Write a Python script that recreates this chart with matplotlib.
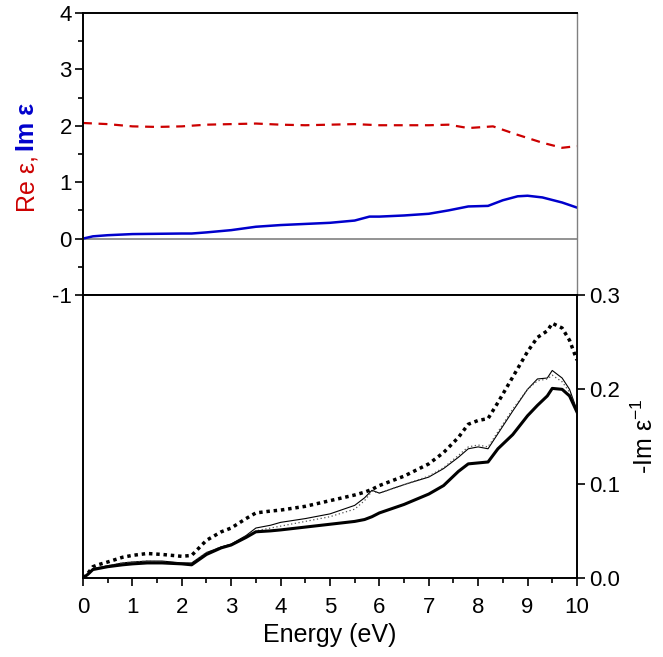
import matplotlib
matplotlib.use("Agg")
import matplotlib.pyplot as plt
from matplotlib.ticker import MultipleLocator

plt.rcParams['font.family'] = ['Liberation Sans', 'DejaVu Sans']
plt.rcParams['mathtext.fontset'] = 'custom'
plt.rcParams['mathtext.rm'] = 'Liberation Sans'
plt.rcParams['mathtext.it'] = 'Liberation Sans'
plt.rcParams['axes.unicode_minus'] = False

# top panel: dielectric function
e_re = [0, 0.5, 1.0, 1.5, 2.0, 2.5, 3.0, 3.5, 4.0, 4.5, 5.0, 5.5, 6.0, 6.5,
        7.0, 7.4, 7.8, 8.3, 8.8, 9.3, 9.7, 10.0]
re_eps = [2.05, 2.03, 1.99, 1.98, 1.99, 2.02, 2.03, 2.04, 2.02, 2.01, 2.02,
          2.03, 2.01, 2.01, 2.01, 2.02, 1.96, 1.99, 1.84, 1.70, 1.61, 1.64]

e_im = [0, 0.2, 0.5, 1.0, 1.5, 2.0, 2.2, 2.5, 3.0, 3.5, 4.0, 4.5, 5.0, 5.5,
        5.8, 6.0, 6.5, 7.0, 7.4, 7.8, 8.2, 8.5, 8.8, 9.0, 9.3, 9.7, 10.0]
im_eps = [0.0, 0.04, 0.06, 0.08, 0.085, 0.09, 0.09, 0.11, 0.15, 0.21, 0.24,
          0.26, 0.28, 0.32, 0.39, 0.39, 0.41, 0.44, 0.50, 0.57, 0.58, 0.68,
          0.75, 0.76, 0.73, 0.64, 0.55]

# bottom panel: loss function
energy = [0, 0.1, 0.2, 0.3, 0.5, 0.8, 1.0, 1.3, 1.6, 2.0, 2.2, 2.5, 2.8, 3.0,
          3.3, 3.5, 3.8, 4.0, 4.5, 5.0, 5.5, 5.7, 5.85, 6.0, 6.5, 7.0, 7.3,
          7.6, 7.8, 8.0, 8.2, 8.4, 8.7, 9.0, 9.2, 9.4, 9.5, 9.7, 9.85, 10.0]
loss_a = [0, 0.005, 0.012, 0.014, 0.017, 0.022, 0.024, 0.026, 0.025, 0.023,
          0.024, 0.040, 0.049, 0.053, 0.063, 0.069, 0.071, 0.072, 0.076,
          0.082, 0.088, 0.091, 0.094, 0.098, 0.108, 0.121, 0.133, 0.149,
          0.163, 0.167, 0.169, 0.186, 0.213, 0.240, 0.255, 0.262, 0.270,
          0.265, 0.252, 0.231]
loss_b = [0, 0.004, 0.010, 0.011, 0.013, 0.016, 0.017, 0.018, 0.018, 0.016,
          0.016, 0.027, 0.033, 0.036, 0.045, 0.053, 0.056, 0.059, 0.063,
          0.068, 0.077, 0.085, 0.093, 0.090, 0.099, 0.107, 0.116, 0.128,
          0.137, 0.139, 0.137, 0.153, 0.177, 0.200, 0.211, 0.212, 0.220,
          0.212, 0.200, 0.178]
loss_c = [0, 0.004, 0.010, 0.011, 0.013, 0.016, 0.017, 0.018, 0.017, 0.016,
          0.016, 0.027, 0.033, 0.036, 0.044, 0.050, 0.053, 0.055, 0.060,
          0.065, 0.073, 0.082, 0.092, 0.090, 0.099, 0.108, 0.117, 0.130,
          0.139, 0.141, 0.139, 0.155, 0.179, 0.200, 0.209, 0.211, 0.215,
          0.208, 0.197, 0.177]
loss_d = [0, 0.004, 0.009, 0.010, 0.012, 0.014, 0.015, 0.016, 0.016, 0.015,
          0.014, 0.025, 0.032, 0.035, 0.043, 0.049, 0.050, 0.051, 0.054,
          0.057, 0.060, 0.062, 0.065, 0.069, 0.078, 0.089, 0.098, 0.113,
          0.121, 0.122, 0.123, 0.137, 0.152, 0.172, 0.183, 0.193, 0.201,
          0.200, 0.193, 0.176]

fig = plt.figure(figsize=(6.63, 6.57), dpi=100)
ax1 = fig.add_axes([0.1252, 0.551, 0.745, 0.4292])
ax2 = fig.add_axes([0.1252, 0.1202, 0.745, 0.4308])

# top panel
ax1.axhline(0, color='gray', lw=1.2, zorder=1)
ax1.plot(e_re, re_eps, color='#cc0000', lw=1.6, ls=(0, (4, 3)))
ax1.plot(e_im, im_eps, color='#0000cc', lw=1.8)
ax1.set_xlim(0, 10)
ax1.set_ylim(-1, 4)
ax1.yaxis.set_major_locator(MultipleLocator(1))
ax1.yaxis.set_minor_locator(MultipleLocator(0.5))
ax1.tick_params(axis='y', which='major', direction='out', length=6,
                width=1.2, labelsize=16, pad=2)
ax1.tick_params(axis='y', which='minor', direction='out', length=3.5, width=1.2)
ax1.tick_params(axis='x', which='both', bottom=False, labelbottom=False)
for s in ['left', 'top', 'bottom']:
    ax1.spines[s].set_linewidth(1.4)
ax1.spines['right'].set_color('gray')
ax1.spines['right'].set_linewidth(1.0)

fig.text(0.041, 1 - 212 / 657, 'Re ε,', color='#cc0000', rotation=90,
         ha='center', va='bottom', fontsize=18)
fig.text(0.041, 1 - 151 / 657, 'Im ε', color='#0000cc', rotation=90,
         ha='center', va='bottom', fontsize=18, fontweight='bold')

# bottom panel
ax2.plot(energy, loss_a, color='black', lw=2.5, ls=(0, (1, 1.1)))
ax2.plot(energy, loss_b, color='black', lw=0.8)
ax2.plot(energy, loss_c, color='#555555', lw=0.9, ls=(0, (1, 2)))
ax2.plot(energy, loss_d, color='black', lw=2.2)
ax2.set_xlim(0, 10)
ax2.set_ylim(0, 0.3)
ax2.xaxis.set_major_locator(MultipleLocator(1))
ax2.xaxis.set_minor_locator(MultipleLocator(0.5))
ax2.yaxis.set_major_locator(MultipleLocator(0.1))
ax2.yaxis.tick_right()
ax2.yaxis.set_label_position('right')
ax2.tick_params(axis='y', which='both', left=False, right=True,
                direction='out', length=6, width=1.2, labelsize=16, pad=3)
ax2.tick_params(axis='x', which='major', direction='out', length=6,
                width=1.2, labelsize=16, pad=8)
ax2.tick_params(axis='x', which='minor', direction='out', length=3.5, width=1.2)
ax2.yaxis.set_major_formatter(plt.FormatStrFormatter('%.1f'))
for s in ax2.spines.values():
    s.set_linewidth(1.4)
ax2.set_xlabel('Energy (eV)', fontsize=18, labelpad=3)
ax2.set_ylabel('-Im ε$^{-1}$', fontsize=18, labelpad=8)

fig.savefig('out.png', dpi=100)
